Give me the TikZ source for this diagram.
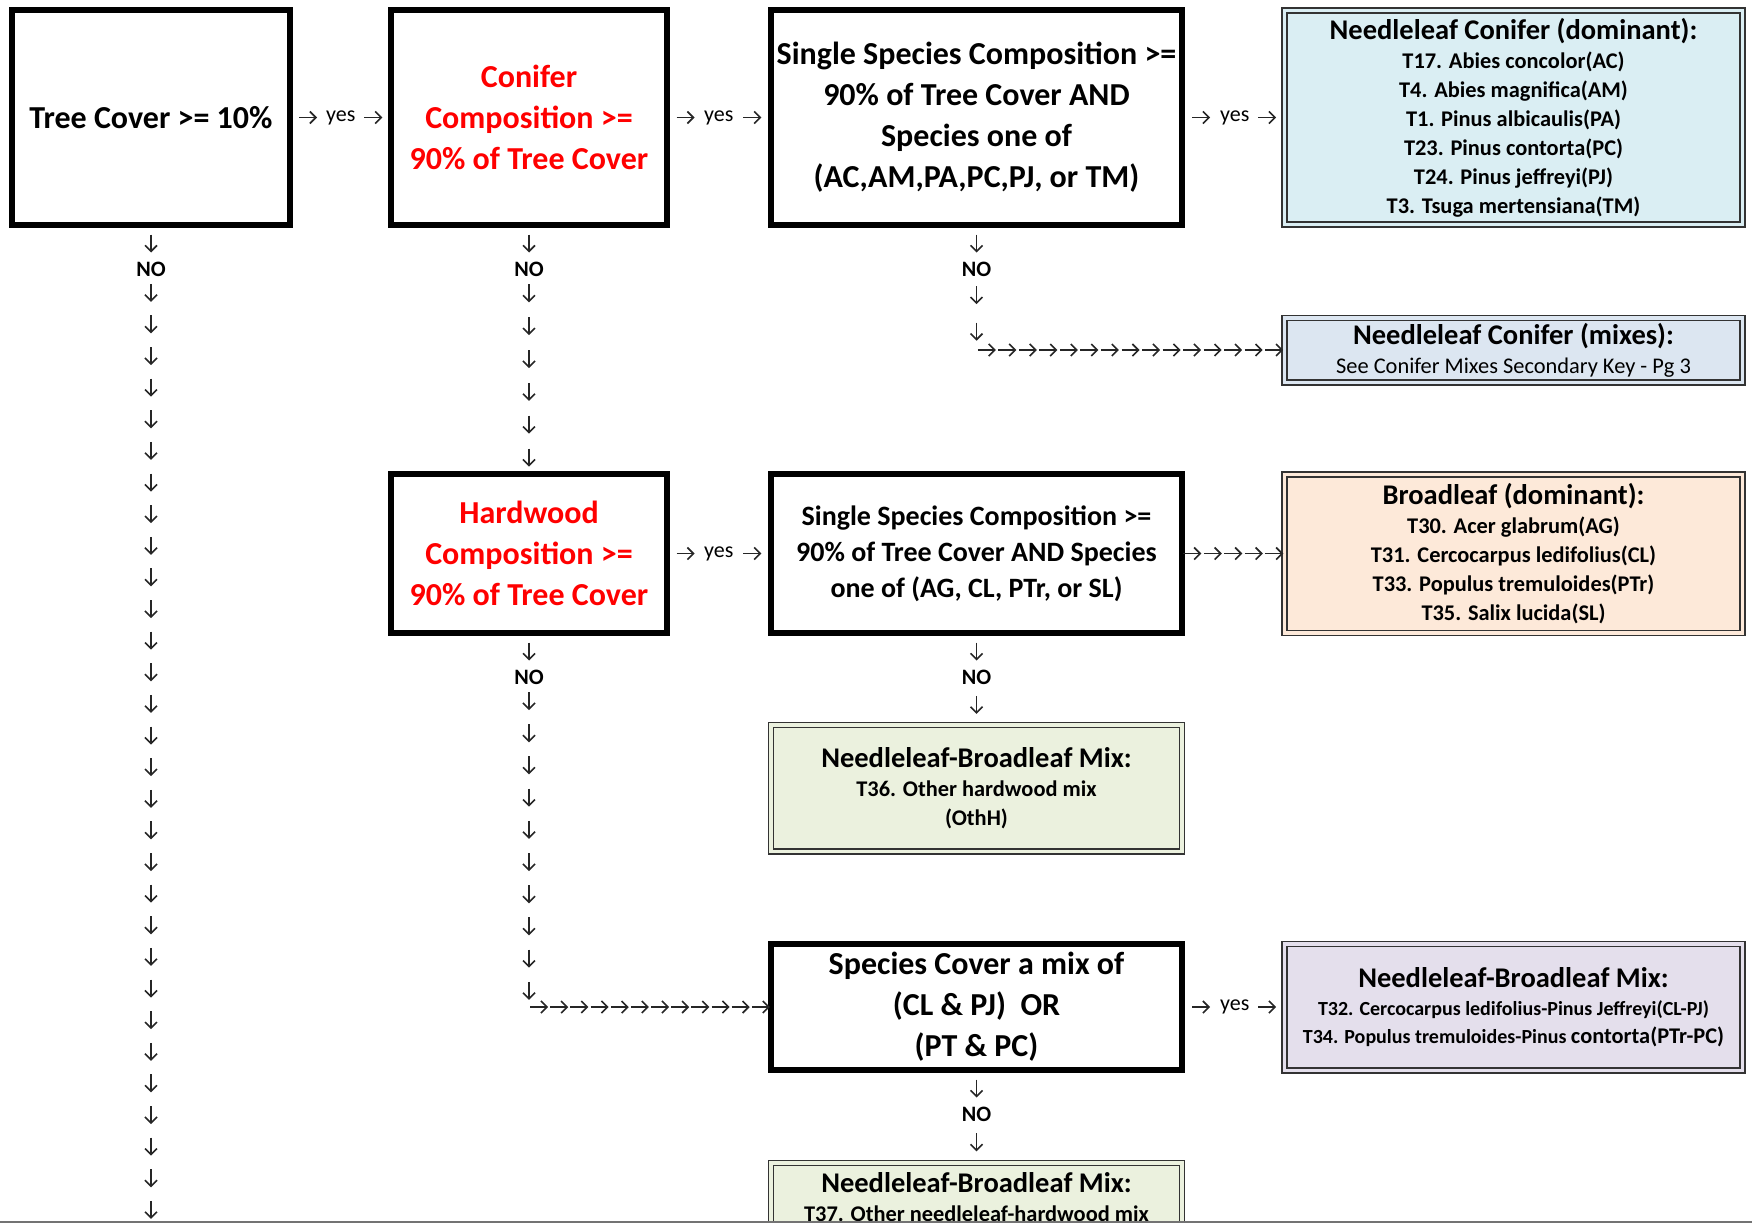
\documentclass[tikz,border=0pt]{standalone}
\usepackage{fontspec}
\setmainfont{Carlito}
\usetikzlibrary{positioning,arrows.meta,decorations.markings}

\definecolor{conblue}{HTML}{DAEEF3}
\definecolor{mixblue}{HTML}{DCE6F1}
\definecolor{broadpeach}{HTML}{FDE9D9}
\definecolor{mixgreen}{HTML}{EBF1DE}
\definecolor{mixpurple}{HTML}{E4DFEC}
\newcommand{\headfont}{\fontsize{28.5}{30}\selectfont}

\begin{document}
\begin{tikzpicture}[x=1pt, y=-1pt,
    testnode/.style={draw, line width=6pt, outer sep=0pt, inner sep=2pt, align=center, minimum height=215pt, font=\fontsize{32}{41}\selectfont\bfseries},
    resultnode/.style={draw=black!80, double=#1, double distance=3.5pt, line width=1.5pt, fill=#1, outer sep=0pt, inner sep=2pt, align=center, minimum width=458pt, font=\fontsize{22.4}{29}\selectfont\bfseries},
    nonode/.style={inner sep=0pt, font=\fontsize{22}{26}\selectfont\bfseries},
    yesnode/.style={inner sep=0pt, font=\fontsize{22}{26}\selectfont},
    arrowrow/.style={decoration={markings, mark=between positions 0.5/#1 and 1 step 1/#1 with {\draw[black!85, line width=1.6pt, -{Straight Barb[length=6pt,width=12pt]}] (-9pt,0pt) -- (9pt,0pt);}}, postaction={decorate}}]

    \useasboundingbox (0,0) rectangle (1752,1225);
    \begin{scope}
        \clip (0,0) rectangle (1752,1222);

        % first row
        \node[testnode, minimum width=278pt] (tree) at (151,117.5) {Tree Cover >= 10\%};
        \node[testnode, minimum width=276pt, text=red] (conifer) [right=101pt of tree] {Conifer\\Composition >=\\90\% of Tree Cover};
        \node[testnode, minimum width=411pt] (single) [right=104pt of conifer] {Single Species Composition >=\\90\% of Tree Cover AND\\Species one of\\(AC,AM,PA,PC,PJ, or TM)};
        \node[resultnode=conblue, minimum height=213.5pt] (condom) [right=102.5pt of single] {{\headfont Needleleaf Conifer (dominant):}\\T17. Abies concolor(AC)\\T4. Abies magnifica(AM)\\T1. Pinus albicaulis(PA)\\T23. Pinus contorta(PC)\\T24. Pinus jeffreyi(PJ)\\T3. Tsuga mertensiana(TM)};
        \node[resultnode=mixblue, minimum height=64.5pt] (conmix) [below=93.5pt of condom] {{\headfont Needleleaf Conifer (mixes):}\\{\mdseries See Conifer Mixes Secondary Key - Pg 3}};

        % hardwood row
        \node[testnode, minimum width=276pt, minimum height=159pt, text=red] (hard) [below=249pt of conifer] {Hardwood\\Composition >=\\90\% of Tree Cover};
        \node[testnode, minimum width=411pt, minimum height=159pt, font=\fontsize{28}{36}\selectfont\bfseries] (single2) [right=104pt of hard] {Single Species Composition >=\\90\% of Tree Cover AND Species\\one of (AG, CL, PTr, or SL)};
        \node[resultnode=broadpeach, minimum height=158.5pt] (broaddom) [right=102.5pt of single2] {{\headfont Broadleaf (dominant):}\\T30. Acer glabrum(AG)\\T31. Cercocarpus ledifolius(CL)\\T33. Populus tremuloides(PTr)\\T35. Salix lucida(SL)};
        \node[resultnode=mixgreen, minimum width=411pt, minimum height=126.5pt] (hardmix) [below=91.75pt of single2] {{\headfont Needleleaf-Broadleaf Mix:}\\T36. Other hardwood mix\\(OthH)};

        % mix row
        \node[testnode, minimum width=411pt, minimum height=126pt] (pair) [below=92.75pt of hardmix] {Species Cover a mix of\\(CL \& PJ)\ \ OR\\(PT \& PC)};
        \node[resultnode=mixpurple, minimum height=126.5pt, font=\fontsize{20}{28}\selectfont\bfseries] (pairmix) [right=102.5pt of pair] {{\headfont Needleleaf-Broadleaf Mix:}\\T32. Cercocarpus ledifolius-Pinus Jeffreyi(CL-PJ)\\T34. Populus tremuloides-Pinus {\fontsize{22.4}{28}\selectfont contorta(PTr-PC)}};
        \node[resultnode=mixgreen, minimum width=411pt, minimum height=69pt] (othmix) [below=92.75pt of pair] {{\headfont Needleleaf-Broadleaf Mix:}\\T37. Other needleleaf-hardwood mix};

        % labels
        \node[nonode] (notree) [below=37pt of tree] {NO};
        \node[nonode] (noconifer) [below=37pt of conifer] {NO};
        \node[nonode] (nosingle) [below=37pt of single] {NO};
        \node[nonode] (nohard) [below=37pt of hard] {NO};
        \node[nonode] (nosingle2) [below=37pt of single2] {NO};
        \node[nonode] (nopair) [below=37pt of pair] {NO};
        \node[yesnode] (yes1) [right=36pt of tree] {yes};
        \node[yesnode] (yes2) [right=37pt of conifer] {yes};
        \node[yesnode] (yes3) [right=38pt of single] {yes};
        \node[yesnode] (yes4) [right=37pt of hard] {yes};
        \node[yesnode] (yes5) [right=38pt of pair] {yes};

        \coordinate (treeend) at (notree |- 0,1226);
        \coordinate (singleturn) at (nosingle |- conmix.west);
        \coordinate (hardturn) at (nohard |- pair.west);

        % arrow rows
        \foreach \a/\b in {tree/yes1, yes1/conifer, conifer/yes2, yes2/single, single/yes3, yes3/condom,
            hard/yes4, yes4/single2, pair/yes5, yes5/pairmix,
            tree/notree, conifer/noconifer, single/nosingle, hard/nohard,
            single2/nosingle2, nosingle2/hardmix, pair/nopair, nopair/othmix}
            \path[arrowrow=1] (\a) -- (\b);
        \path[arrowrow=30] (notree) -- (treeend);
        \path[arrowrow=6] (noconifer) -- (hard);
        \path[arrowrow=2] (nosingle) -- (singleturn);
        \path[arrowrow=15] (singleturn) -- (conmix);
        \path[arrowrow=5] (single2) -- (broaddom);
        \path[arrowrow=10] (nohard) -- (hardturn);
        \path[arrowrow=12] (hardturn) -- (pair);
    \end{scope}
    \draw[black!55, line width=1.5pt] (0,1222) -- (1752,1222);
\end{tikzpicture}
\end{document}
